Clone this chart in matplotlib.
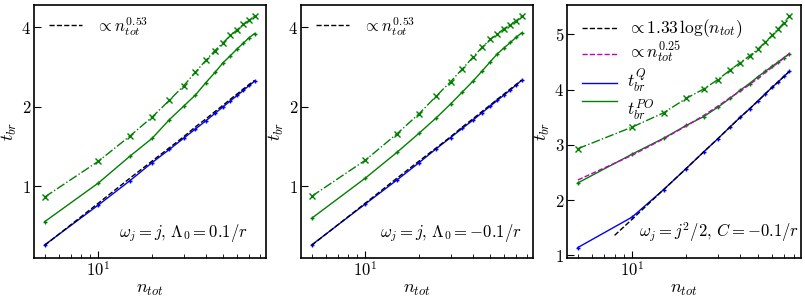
import numpy as np
import matplotlib
matplotlib.use("Agg")
import matplotlib.pyplot as plt
from matplotlib.lines import Line2D
from matplotlib.ticker import FixedLocator, FixedFormatter, NullLocator, NullFormatter

plt.rcParams['mathtext.fontset'] = 'cm'
plt.rcParams['font.family'] = 'DejaVu Serif'
plt.rcParams['font.size'] = 11

# system sizes
n_tot = [5, 10, 15, 20, 25, 30, 35, 40, 45, 50, 55, 60, 65, 70, 75]

# panel 1: omega_j = j, Lambda_0 = 0.1/r
p1_q = [0.60, 0.85, 1.05, 1.23, 1.38, 1.52, 1.65, 1.77, 1.89, 2.00, 2.11, 2.21, 2.31, 2.41, 2.50]
p1_fit = [0.598, 0.864, 1.073, 1.247, 1.40, 1.54, 1.68, 1.80, 1.92, 2.03, 2.14, 2.24, 2.34, 2.43, 2.52]
p1_po = [0.735, 1.03, 1.30, 1.52, 1.79, 2.01, 2.22, 2.47, 2.70, 2.94, 3.13, 3.32, 3.49, 3.66, 3.79]
p1_po2 = [0.911, 1.245, 1.55, 1.83, 2.12, 2.40, 2.71, 3.00, 3.27, 3.50, 3.73, 3.92, 4.11, 4.25, 4.41]

# panel 2: omega_j = j, Lambda_0 = -0.1/r
p2_q = [0.60, 0.858, 1.056, 1.23, 1.39, 1.53, 1.66, 1.78, 1.90, 2.01, 2.12, 2.22, 2.32, 2.42, 2.52]
p2_fit = [0.598, 0.864, 1.073, 1.247, 1.40, 1.54, 1.68, 1.80, 1.92, 2.03, 2.14, 2.24, 2.34, 2.43, 2.52]
p2_po = [0.757, 1.075, 1.344, 1.59, 1.82, 2.05, 2.28, 2.50, 2.73, 2.96, 3.18, 3.35, 3.51, 3.67, 3.81]
p2_po2 = [0.917, 1.257, 1.58, 1.885, 2.20, 2.49, 2.79, 3.08, 3.36, 3.60, 3.78, 3.96, 4.10, 4.24, 4.40]

# panel 3: omega_j = j^2/2, C = -0.1/r
p3_q = [1.14, 1.69, 2.19, 2.57, 2.87, 3.11, 3.32, 3.50, 3.65, 3.79, 3.92, 4.04, 4.14, 4.24, 4.33]
p3_log_n = [8, 10, 15, 20, 25, 30, 35, 40, 45, 50, 55, 60, 65, 70, 75]
p3_log_fit = [1.36, 1.65, 2.19, 2.57, 2.87, 3.11, 3.32, 3.50, 3.65, 3.79, 3.92, 4.04, 4.14, 4.24, 4.33]
p3_pow_fit = [2.363, 2.81, 3.11, 3.34, 3.53, 3.70, 3.85, 3.97, 4.09, 4.20, 4.31, 4.40, 4.49, 4.57, 4.65]
p3_po = [2.31, 2.83, 3.12, 3.35, 3.51, 3.68, 3.84, 3.99, 4.11, 4.23, 4.33, 4.42, 4.50, 4.58, 4.65]
p3_po2 = [2.93, 3.32, 3.58, 3.84, 4.01, 4.18, 4.35, 4.49, 4.61, 4.73, 4.86, 4.98, 5.10, 5.21, 5.33]

notes = [r'$\omega_j = j,\, \Lambda_0 = 0.1/r$',
         r'$\omega_j = j,\, \Lambda_0 = -0.1/r$',
         r'$\omega_j = j^2/2,\, C = -0.1/r$']
note_x = [0.922, 0.953, 0.99]

legend3_labels = [r'$\propto 1.33\,\log(n_{tot})$', r'$\propto n_{tot}^{0.25}$',
                  r'$t_{br}^{Q}$', r'$t_{br}^{PO}$']
legend3_colors = ['k', 'm', 'b', 'g']
legend3_styles = ['--', '--', '-', '-']


def style_x(ax):
    ax.set_xscale('log')
    ax.set_xlim(4.35, 87)
    ax.xaxis.set_major_locator(FixedLocator([10]))
    ax.xaxis.set_major_formatter(FixedFormatter([r'$10^1$']))
    ax.xaxis.set_minor_locator(FixedLocator([5, 6, 7, 8, 9, 20, 30, 40, 50, 60, 70, 80]))
    ax.xaxis.set_minor_formatter(NullFormatter())
    ax.tick_params(which='both', direction='in', labelsize=12, pad=2)
    ax.tick_params(which='major', length=5)
    ax.tick_params(which='minor', length=3)
    for s in ax.spines.values():
        s.set_linewidth(1.2)
    ax.set_xlabel(r'$n_{tot}$', fontsize=13, labelpad=0)
    ax.set_ylabel(r'$t_{br}$', fontsize=13)
    ax.yaxis.set_label_coords(-0.065, 0.5)


def main():
    fig = plt.figure(figsize=(8.05, 3.0), dpi=100)
    lefts = [34 / 805, 301 / 805, 567 / 805]
    widths = [232 / 805, 232 / 805, 234 / 805]
    axs = [fig.add_axes([l, 0.14, w, 0.843]) for l, w in zip(lefts, widths)]

    panels = [(p1_q, p1_fit, p1_po, p1_po2), (p2_q, p2_fit, p2_po, p2_po2)]
    for ax, (q, fit, po, po2) in zip(axs[:2], panels):
        ax.plot(n_tot, q, color='b', marker='+', ms=3.5, lw=1)
        ax.plot(n_tot, fit, color='k', ls='--', lw=1)
        ax.plot(n_tot, po, color='g', marker='+', ms=3.5, lw=1)
        ax.plot(n_tot, po2, color='g', marker='x', ms=4, lw=1, ls='-.')
        ax.set_yscale('log')
        ax.set_ylim(0.535, 4.86)
        ax.yaxis.set_major_locator(FixedLocator([1, 2, 4]))
        ax.yaxis.set_major_formatter(FixedFormatter([r'$1$', r'$2$', r'$4$']))
        ax.yaxis.set_minor_locator(NullLocator())
        style_x(ax)
        ax.legend([Line2D([], [], color='k', ls='--', lw=1)], [r'$\propto n_{tot}^{0.53}$'],
                  loc='upper left', bbox_to_anchor=(0, 1.025), frameon=False, fontsize=12)

    ax = axs[2]
    ax.plot(n_tot, p3_q, color='b', marker='+', ms=3.5, lw=1)
    ax.plot(p3_log_n, p3_log_fit, color='k', ls='--', lw=1)
    ax.plot(n_tot, p3_po, color='g', marker='+', ms=3.5, lw=1)
    ax.plot(n_tot, p3_pow_fit, color='m', ls='--', lw=1)
    ax.plot(n_tot, p3_po2, color='g', marker='x', ms=4, lw=1, ls='-.')
    ax.set_ylim(0.95, 5.53)
    ax.yaxis.set_major_locator(FixedLocator([1, 2, 3, 4, 5]))
    ax.yaxis.set_major_formatter(FixedFormatter([r'$1$', r'$2$', r'$3$', r'$4$', r'$5$']))
    ax.yaxis.set_minor_locator(NullLocator())
    style_x(ax)

    # hand-placed legend rows (tight spacing as in the original)
    handle_y = [0.909, 0.806, 0.692, 0.621]
    text_y = [0.905, 0.818, 0.705, 0.588]
    for hy, ty, lab, c, ls in zip(handle_y, text_y, legend3_labels, legend3_colors, legend3_styles):
        ax.plot([0.064, 0.214], [hy, hy], color=c, ls=ls, lw=1, transform=ax.transAxes)
        ax.text(0.255, ty, lab, transform=ax.transAxes, ha='left', va='center', fontsize=12.5)

    for ax, txt, x in zip(axs, notes, note_x):
        ax.text(x, 0.083, txt, transform=ax.transAxes, ha='right', va='baseline', fontsize=12)

    fig.savefig('out.png', dpi=100)


if __name__ == "__main__":
    main()
